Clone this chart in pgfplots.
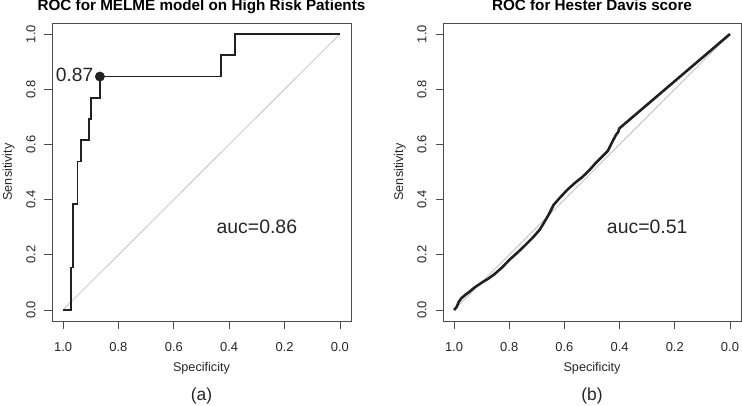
\documentclass[border=0pt]{standalone}
\usepackage{fontspec}
\setmainfont{Liberation Sans}
\usepackage{pgfplots}
\pgfplotsset{compat=1.18}

\definecolor{boxgray}{rgb}{0.30,0.30,0.30}
\definecolor{diaggray}{rgb}{0.76,0.76,0.76}
\definecolor{curve}{rgb}{0.13,0.13,0.13}

\pgfplotsset{
  rocaxis/.style={
    scale only axis,
    width=299bp, height=298bp,
    x dir=reverse,
    xmin=-0.04, xmax=1.04,
    ymin=-0.04, ymax=1.04,
    xtick={0,0.2,0.4,0.6,0.8,1},
    ytick={0,0.2,0.4,0.6,0.8,1},
    xtick pos=bottom, ytick pos=left,
    tick align=outside,
    major tick length=7.5bp,
    axis line style={boxgray, line width=0.8bp},
    every tick/.style={boxgray, line width=0.8bp},
    /pgf/number format/.cd, fixed, fixed zerofill, precision=1,
    assume math mode=true,
    /pgfplots/.cd,
    tick label style={font=\fontsize{13}{15}\selectfont, text=black!85},
    xticklabel style={yshift=-10bp},
    yticklabel style={xshift=-5.5bp, rotate=90},
    label style={font=\fontsize{12.7}{15}\selectfont, text=black!85},
    xlabel={Specificity},
    ylabel={Sensitivity},
    xlabel style={at={(axis description cs:0.5,-0.170)}, anchor=base},
    ylabel style={at={(axis description cs:-0.134,0.5)}, anchor=base},
    every axis title shift=0pt,
    title style={at={(axis description cs:0.5,1)}, anchor=base, yshift=12bp,
      font=\fontsize{15.3}{18}\selectfont\bfseries},
  },
}

\begin{document}
\begin{tikzpicture}[x=1bp,y=1bp]
\useasboundingbox (0,0) rectangle (742,405);

% (a) MELME model
\begin{axis}[rocaxis, name=A, at={(52bp,84bp)}, anchor=south west,
  title={ROC for MELME model on High Risk Patients}]
\addplot[diaggray, line width=0.8bp] coordinates {(1,0) (0,1)};
\addplot[curve, line width=1.9bp] coordinates {
  (1,0) (0.970,0) (0.970,0.154) (0.964,0.154) (0.964,0.385)
  (0.948,0.385) (0.948,0.538) (0.935,0.538) (0.935,0.615)
  (0.905,0.615) (0.905,0.692) (0.898,0.692) (0.898,0.769)
  (0.867,0.769) (0.867,0.846) (0.430,0.846) (0.430,0.923)
  (0.378,0.923) (0.378,1) (0,1)
};
\addplot[only marks, mark=*, mark size=4.7bp, mark options={fill=curve, draw=curve},
  nodes near coords={0.87},
  every node near coord/.style={anchor=east, xshift=-3bp, yshift=1.5bp,
    font=\fontsize{19.3}{22}\selectfont, text=black!85}]
  coordinates {(0.867,0.846)};
\node[font=\fontsize{19.5}{22}\selectfont, text=black!85] at (axis cs:0.3,0.3) {auc=0.86};
\end{axis}
\node[anchor=base, font=\fontsize{17.5}{20}\selectfont, text=black!85] at (201.5,5) {(a)};

% (b) Hester Davis score
\begin{axis}[rocaxis, name=B, at={(443bp,84bp)}, anchor=south west, width=298bp,
  title={ROC for Hester Davis score}]
\addplot[diaggray, line width=0.8bp] coordinates {(1,0) (0,1)};
\addplot[curve, line width=2.6bp, line join=round] coordinates {
  (1.000,0.000) (0.991,0.010) (0.982,0.031) (0.973,0.043) (0.960,0.054)
  (0.943,0.067) (0.925,0.082) (0.895,0.102) (0.875,0.114) (0.853,0.130)
  (0.825,0.155) (0.799,0.182) (0.770,0.208) (0.745,0.232) (0.715,0.262)
  (0.690,0.290) (0.670,0.323) (0.654,0.351) (0.639,0.381) (0.618,0.405)
  (0.590,0.435) (0.560,0.462) (0.536,0.481) (0.510,0.506) (0.488,0.531)
  (0.465,0.554) (0.443,0.576) (0.425,0.612) (0.413,0.635) (0.407,0.642)
  (0.404,0.648) (0.401,0.658) (0.000,1.000)
};
\node[font=\fontsize{19.5}{22}\selectfont, text=black!85] at (axis cs:0.3,0.3) {auc=0.51};
\end{axis}
\node[anchor=base, font=\fontsize{17.5}{20}\selectfont, text=black!85] at (592,5) {(b)};
\end{tikzpicture}
\end{document}
